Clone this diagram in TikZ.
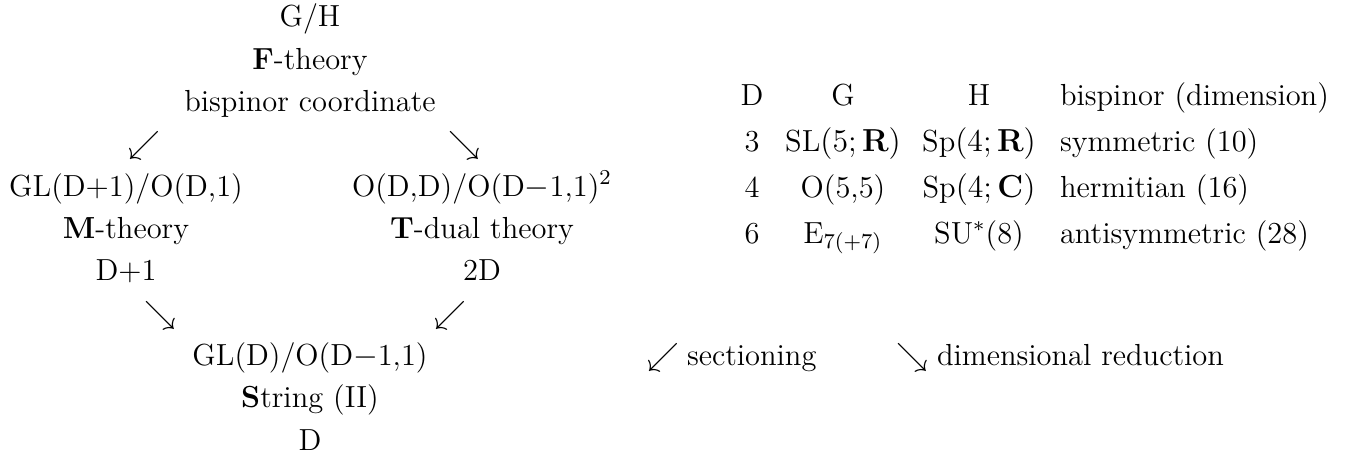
\documentclass[tikz,border=0pt]{standalone}
\usepackage{amsmath}
\begin{document}
\begin{tikzpicture}[x=0.3774pt,y=-0.3774pt,
  font=\fontsize{11.5}{14}\selectfont,
  lbl/.style={anchor=base,inner sep=0pt,outer sep=0pt},
  lft/.style={anchor=base west,inner sep=0pt,outer sep=0pt}]
\useasboundingbox (0,0) rectangle (1369,457);
% top
\node[lbl] (gh) at (310,26.7) {G/H};
\node[lbl] (ft) at (310,69) {\textbf{F}-theory};
\node[lbl] (bc) at (310,111.4) {bispinor coordinate};
\node[lbl] (a1) at (144,153.7) {$\swarrow$};
\node[lbl] (a2) at (464,153.7) {$\searrow$};
% middle left
\node[lbl] (gl) at (126,196) {GL(D+1)/O(D,1)};
\node[lbl] (mt) at (126,238.4) {\textbf{M}-theory};
\node[lbl] (dp) at (126,280.7) {D+1};
% middle right
\node[lbl] (od) at (482,196) {O(D,D)/O(D$-$1,1)$^2$};
\node[lbl] (tt) at (482,238.4) {\textbf{T}-dual theory};
\node[lbl] (td) at (482,280.7) {2D};
\node[lbl] (a3) at (160,323) {$\searrow$};
\node[lbl] (a4) at (450,323) {$\swarrow$};
% bottom
\node[lbl] (gd) at (310,365.4) {GL(D)/O(D$-$1,1)};
\node[lbl] (st) at (310,407.7) {\textbf{S}tring (II)};
\node[lbl] (dd) at (310,450) {D};
% table
\node[lbl] (h1) at (752,105) {D};
\node[lbl] (h2) at (843,105) {G};
\node[lbl] (h3) at (979,105) {H};
\node[lft] (h4) at (1060,105) {bispinor (dimension)};
\node[lbl] (r11) at (752,151.5) {3};
\node[lbl] (r12) at (843,151.5) {SL$(5;\mathbf{R})$};
\node[lbl] (r13) at (979,151.5) {Sp$(4;\mathbf{R})$};
\node[lft] (r14) at (1060,151.5) {symmetric (10)};
\node[lbl] (r21) at (752,197.5) {4};
\node[lbl] (r22) at (843,197.5) {O(5,5)};
\node[lbl] (r23) at (979,197.5) {Sp$(4;\mathbf{C})$};
\node[lft] (r24) at (1060,197.5) {hermitian (16)};
\node[lbl] (r31) at (752,243.5) {6};
\node[lbl] (r32) at (843,243.5) {E$_{7(+7)}$};
\node[lbl] (r33) at (979,243.5) {SU$^*$(8)};
\node[lft] (r34) at (1060,243.5) {antisymmetric (28)};
% legend
\node[lft] (l1) at (647,365.4) {$\swarrow$};
\node[lft] (l1t) at (687,365.4) {sectioning};
\node[lft] (l2) at (896,365.4) {$\searrow$};
\node[lft] (l2t) at (937,365.4) {dimensional reduction};
\end{tikzpicture}
\end{document}
